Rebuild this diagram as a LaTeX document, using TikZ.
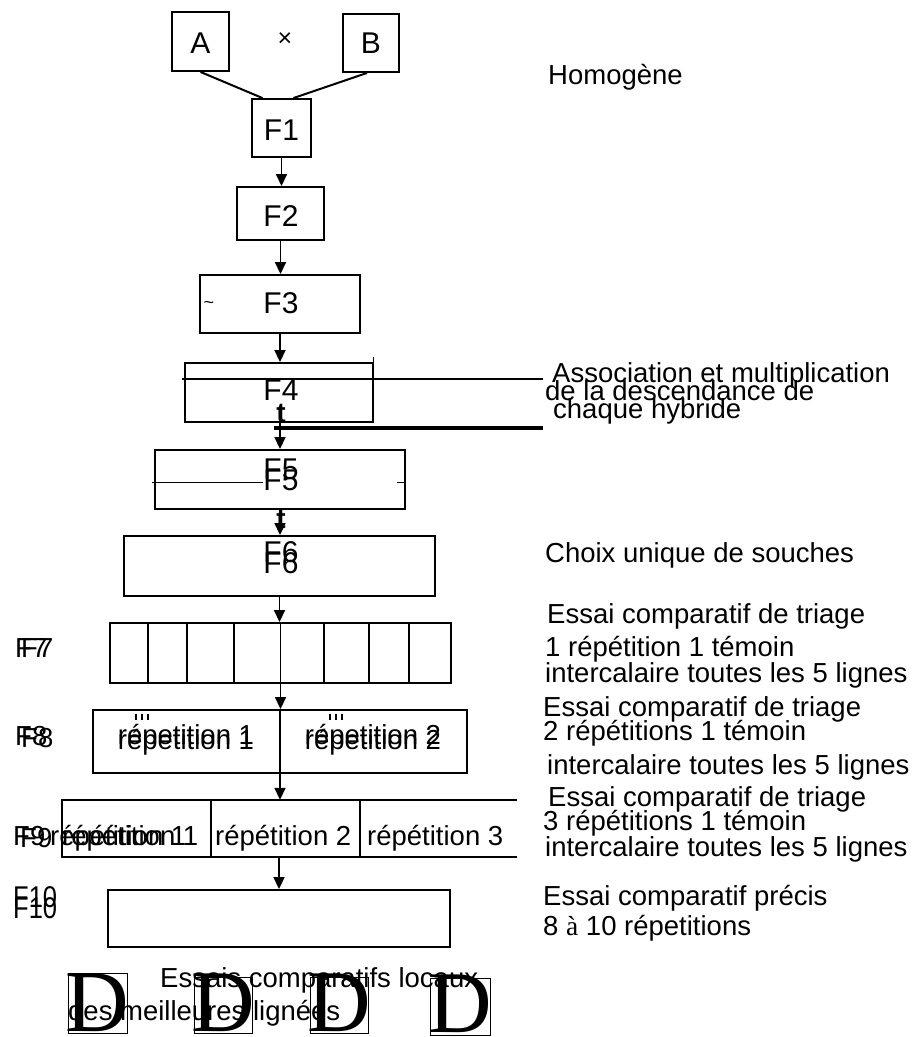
\documentclass[tikz,border=0pt]{standalone}
\usepackage{fontspec}
\setmainfont{Liberation Sans}
\newfontfamily\timesfont{Liberation Serif}
\usetikzlibrary{arrows.meta}
\begin{document}
\begin{tikzpicture}[x=1pt,y=-1pt,
  box/.style={draw, line width=1.9pt, inner sep=0pt},
  hold/.style={inner sep=0pt},
  txt/.style={inner sep=0pt, font=\fontsize{27.5}{30}\selectfont},
  lab/.style={inner sep=0pt, font=\fontsize{30}{32}\selectfont},
  narrow/.style={inner sep=0pt, font=\fontsize{30}{32}\selectfont, xscale=0.85},
  bigD/.style={inner sep=0pt, font=\timesfont\fontsize{88}{88}\selectfont},
  dbox/.style={draw, line width=1pt, inner sep=0pt},
  arr/.style={line width=1.7pt, -{Triangle[length=12pt,width=11pt]}},
  link/.style={line width=2pt},
  rule/.style={line width=1.7pt},
  heavyrule/.style={line width=4pt}]
\useasboundingbox (0,0) rectangle (921,1037);
\fill[white] (0,0) rectangle (921,1037);

% ---- crossing of the two parents ----
\node[box, minimum width=57pt, minimum height=59pt] (a) at (200.5,41.5) {};
\node[box, minimum width=56pt, minimum height=58pt] (b) at (371,43) {};
\node[lab, anchor=base] (ta) at (200.5,53) {A};
\node[lab, anchor=base] (tb) at (371,53) {B};
\node[txt, font=\fontsize{25}{25}\selectfont] (cross) at (285,40) {×};

% ---- generations F1 to F6 ----
\node[box, minimum width=59pt, minimum height=58pt] (f1) at (281.5,128) {};
\node[box, minimum width=87pt, minimum height=53pt] (f2) at (280.5,213.5) {};
\node[box, minimum width=160pt, minimum height=58pt] (f3) at (280,304) {};
\node[box, minimum width=188pt, minimum height=59pt] (f4) at (279,392.5) {};
\node[box, minimum width=250pt, minimum height=59pt] (f5) at (280,479.5) {};
\node[box, minimum width=311pt, minimum height=60pt] (f6) at (279.5,566) {};

\node[lab, anchor=base] (tf1) at (281.5,140) {F1};
\node[lab, anchor=base] (tf2) at (281,226) {F2};
\node[lab, anchor=base] (tf3) at (281,313) {F3};
\node[lab, anchor=base] (tf4) at (281,400) {F4};
\node[lab, anchor=base] (tf5b) at (281,490) {F5};
\node[lab, anchor=base] (tf5) at (281,479) {F5};
\node[lab, anchor=base] (tf6b) at (281,573) {F6};
\node[lab, anchor=base] (tf6) at (281,562) {F6};
\node[txt, font=\fontsize{18}{18}\selectfont] (tilde) at (209,305) {\textasciitilde};

\draw[link] (a.south) -- ([xshift=-19pt]f1.north);
\draw[link] ([xshift=-4pt]b.south) -- ([xshift=12pt]f1.north);
\draw[arr] (f1.south) -- (f1.south |- f2.north);
\draw[arr] (f2.south) -- (f2.south |- f3.north);
\draw[arr] (f3.south) -- (f3.south |- f4.north);
\draw[arr] (f3.south |- f4.south) -- (f3.south |- f5.north);
\draw[arr] (f3.south |- f5.south) -- (f3.south |- f6.north);
\node[lab, font=\fontsize{28}{30}\selectfont\bfseries, anchor=base] (t1) at (281,422) {t};
\node[lab, font=\fontsize{28}{30}\selectfont\bfseries, anchor=base] (t2) at (281,528) {t};

% stray rules across F4 and F5
\draw[rule] (182,379) -- (543,379);
\draw[heavyrule] (274,428) -- (543,428);
\draw[line width=1pt] (152,482) -- (263,482);
\draw[line width=1pt] (397,482) -- (406,482);
\draw[line width=1pt] (373,357) -- (373,366);

% ---- F7: one replicate, plots ----
\node[box, minimum width=341pt, minimum height=60pt] (f7) at (280.5,653) {};
\foreach \px in {148,187,234,324,369,409}
  \draw[rule] (\px,0 |- f7.north) -- (\px,0 |- f7.south);
\draw[arr] (f6.south) -- (f6.south |- f7.north);
\draw[rule] (f7.north) -- (f7.south);

% ---- F8: two replicates ----
\node[box, minimum width=374pt, minimum height=63pt] (f8) at (280,741.5) {};
\draw[arr] (f7.south) -- (f7.south |- f8.north);
\draw[rule] (f8.north) -- (f8.south);
\node[txt, anchor=base] (r81b) at (186,749) {répetition 1};
\node[txt, anchor=base] (r81) at (186,744) {répetition 1};
\node[txt, anchor=base] (r82b) at (373,749) {répetition 2};
\node[txt, anchor=base] (r82) at (373,744) {répetition 2};
\foreach \px in {136,142,148,330,336,342}
  \draw[line width=1.3pt] (\px,714) -- (\px,720);

% ---- F9: three replicates, right side left open ----
\node[hold, minimum width=455pt, minimum height=57pt] (f9) at (289.5,828.5) {};
\draw[rule] (f9.north east) -- (f9.north west) -- (f9.south west) -- (f9.south east);
\draw[rule] (211,0 |- f9.north) -- (211,0 |- f9.south);
\draw[rule] (360,0 |- f9.north) -- (360,0 |- f9.south);
\draw[arr] (f8.south) -- (f8.south |- f9.north);
\node[txt, anchor=base west] (r91b) at (62,845) {répétition 1};
\node[txt, anchor=base west] (r91) at (50,845) {répétition 1};
\node[txt, anchor=base west] (r92) at (215,845) {répétition 2};
\node[txt, anchor=base west] (r93) at (367,845) {répétition 3};

% ---- F10: precise trial ----
\node[box, minimum width=342pt, minimum height=57pt] (f10) at (279,918.5) {};
\draw[arr] (f10.north |- f9.south) -- (f10.north);

% ---- generation labels on the left ----
\node[txt, anchor=base west] (l7b) at (21,657) {F7};
\node[txt, anchor=base west] (l7) at (15,657) {F7};
\node[txt, anchor=base west] (l8b) at (21,747) {F8};
\node[txt, anchor=base west] (l8) at (15,745) {F8};
\node[txt, anchor=base west] (l9b) at (20,847) {F9};
\node[txt, anchor=base west] (l9) at (13,845) {F9};
\node[narrow, anchor=base west] (l10b) at (13,918) {F10};
\node[narrow, anchor=base west] (l10) at (13,907) {F10};

% ---- local trials ----
\node[dbox, minimum width=59pt, minimum height=60pt] (d1) at (97.5,1003) {};
\node[dbox, minimum width=58pt, minimum height=56pt] (d2) at (223,1005) {};
\node[dbox, minimum width=58pt, minimum height=56pt] (d3) at (339,1005) {};
\node[dbox, minimum width=60pt, minimum height=57pt] (d4) at (460,1006.5) {};
\node[bigD, anchor=base] (g1) at (97.5,1031) {D};
\node[bigD, anchor=base] (g2) at (223,1031) {D};
\node[bigD, anchor=base] (g3) at (339,1031) {D};
\node[bigD, anchor=base] (g4) at (460,1032) {D};
\node[txt, anchor=base west] (loc1) at (160,987) {Essais comparatifs locaux};
\node[txt, anchor=base west] (loc2) at (68,1020) {des meilleures lignées};

% ---- notes on the right ----
\node[txt, anchor=base west] (n1) at (548,84) {Homogène};
\node[txt, anchor=base west] (n2) at (552,382) {Association et multiplication};
\node[txt, anchor=base west] (n3) at (545,400) {de la descendance de};
\node[txt, anchor=base west] (n4) at (553,418) {chaque hybride};
\node[txt, anchor=base west] (n5) at (545,562) {Choix unique de souches};
\node[txt, anchor=base west] (n6) at (547,623) {Essai comparatif de triage};
\node[txt, anchor=base west] (n7) at (545,656) {1 répétition 1 témoin};
\node[txt, anchor=base west] (n8) at (545,682) {intercalaire toutes les 5 lignes};
\node[txt, anchor=base west] (n9) at (543,716) {Essai comparatif de triage};
\node[txt, anchor=base west] (n10) at (543,740) {2 répétitions 1 témoin};
\node[txt, anchor=base west] (n11) at (547,774) {intercalaire toutes les 5 lignes};
\node[txt, anchor=base west] (n12) at (548,806) {Essai comparatif de triage};
\node[txt, anchor=base west] (n13) at (543,830) {3 répétitions 1 témoin};
\node[txt, anchor=base west] (n14) at (545,856) {intercalaire toutes les 5 lignes};
\node[txt, anchor=base west] (n15) at (543,905) {Essai comparatif précis};
\node[txt, anchor=base west] (n16) at (543,935) {8 {\timesfont à} 10 répetitions};
\end{tikzpicture}
\end{document}
